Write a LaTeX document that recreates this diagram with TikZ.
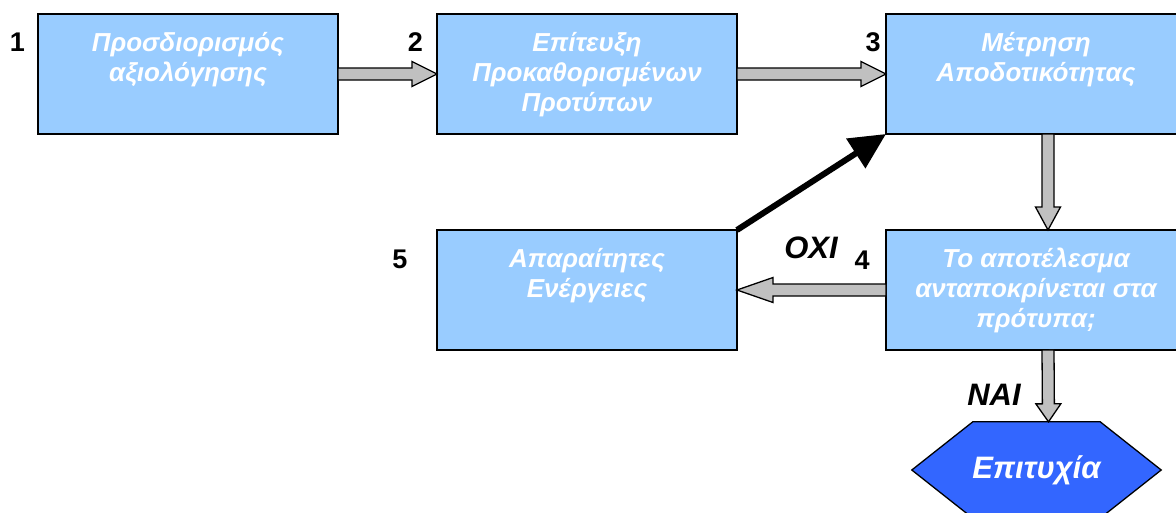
\documentclass[tikz,border=0pt]{standalone}
\usepackage{fontspec}
\setmainfont{Liberation Sans}
\usetikzlibrary{calc,arrows.meta,backgrounds}

\definecolor{boxblue}{HTML}{99CCFF}
\definecolor{winblue}{HTML}{3366FF}
\definecolor{arrowgrey}{HTML}{C0C0C0}

% text block of a step box: top aligned, centred lines
\newcommand\steplines[1]{\parbox[c][120pt][t]{300pt}{\centering\vspace*{16pt}\strut#1}}

% grey block arrow with black outline between two points
\newcommand\blockarrow[3][25]{%
  \coordinate (ba-s) at (#2);
  \coordinate (ba-t) at (#3);
  \coordinate (ba-h) at ($(ba-t)!#1pt!(ba-s)$);
  \draw[blockarrow]
    ($(ba-s)!6pt!90:(ba-t)$) -- ($(ba-h)!6pt!90:(ba-t)$) --
    ($(ba-h)!12.5pt!90:(ba-t)$) -- (ba-t) --
    ($(ba-h)!12.5pt!-90:(ba-t)$) -- ($(ba-h)!6pt!-90:(ba-t)$) --
    ($(ba-s)!6pt!-90:(ba-t)$) -- cycle;}

\tikzset{
  stepbox/.style={draw=black, line width=1.8pt, fill=boxblue, inner sep=0pt, outer sep=0pt,
    text=white, font=\bfseries\itshape\fontsize{26}{30}\selectfont},
  stepnum/.style={font=\bfseries\fontsize{27}{30}\selectfont, inner sep=0pt},
  answer/.style={font=\bfseries\itshape\fontsize{31}{34}\selectfont, inner sep=0pt},
  blockarrow/.style={draw=black, line width=1.3pt, fill=arrowgrey, line join=miter},
  feedback/.style={line width=6pt, -{Triangle[length=36pt,width=34pt]}},
  wintext/.style={text=white, font=\bfseries\itshape\fontsize{31}{34}\selectfont, inner sep=0pt},
}

\begin{document}
\begin{tikzpicture}[x=1pt,y=-1pt]
\useasboundingbox (0,0) rectangle (1176,512);

% step boxes
\node[stepbox] (b1) at (188,74)  {\steplines{Προσδιορισμός\\αξιολόγησης}};
\node[stepbox] (b2) at (587,74)  {\steplines{Επίτευξη\\Προκαθορισμένων\\Προτύπων}};
\node[stepbox] (b3) at (1036,74) {\steplines{Μέτρηση\\Αποδοτικότητας}};
\node[stepbox] (b5) at (587,290) {\steplines{Απαραίτητες\\Ενέργειες}};
\node[stepbox] (b4) at (1036,290) {\steplines{Το αποτέλεσμα\\ανταποκρίνεται στα\\πρότυπα;}};

% step numbers
\node[stepnum] (n1) at (17.5,42.5)  {1};
\node[stepnum] (n2) at (415.5,42.5) {2};
\node[stepnum] (n3) at (873,42.5) {3};
\node[stepnum] (n5) at (400,259) {5};
\node[stepnum] (n4) at (862,260) {4};

% outcome
\node[wintext, minimum width=249pt, minimum height=96pt] (win) at (1036.5,470) {Επιτυχία};
\begin{scope}[on background layer]
  \draw[line width=1.3pt, fill=winblue, line join=miter]
    (win.west) -- ($(win.north west)+(61,0)$) -- ($(win.north east)+(-61,0)$) --
    (win.east) -- ($(win.south east)+(-61,0)$) -- ($(win.south west)+(61,0)$) -- cycle;
\end{scope}

% answers
\node[answer] (no)  at (811,248) {ΟΧΙ};
\node[answer] (yes) at (994,395) {ΝΑΙ};

% connectors
\blockarrow{b1.east}{b2.west}
\blockarrow{b2.east}{b3.west}
\blockarrow[23]{$(b3.south)+(12,0)$}{$(b4.north)+(12,0)$}
\blockarrow[36]{b4.west}{b5.east}
\blockarrow[18]{$(b4.south)+(12,0)$}{$(win.north)+(12,0)$}
\draw[feedback] (b5.north east) -- (b3.south west);
\end{tikzpicture}
\end{document}
